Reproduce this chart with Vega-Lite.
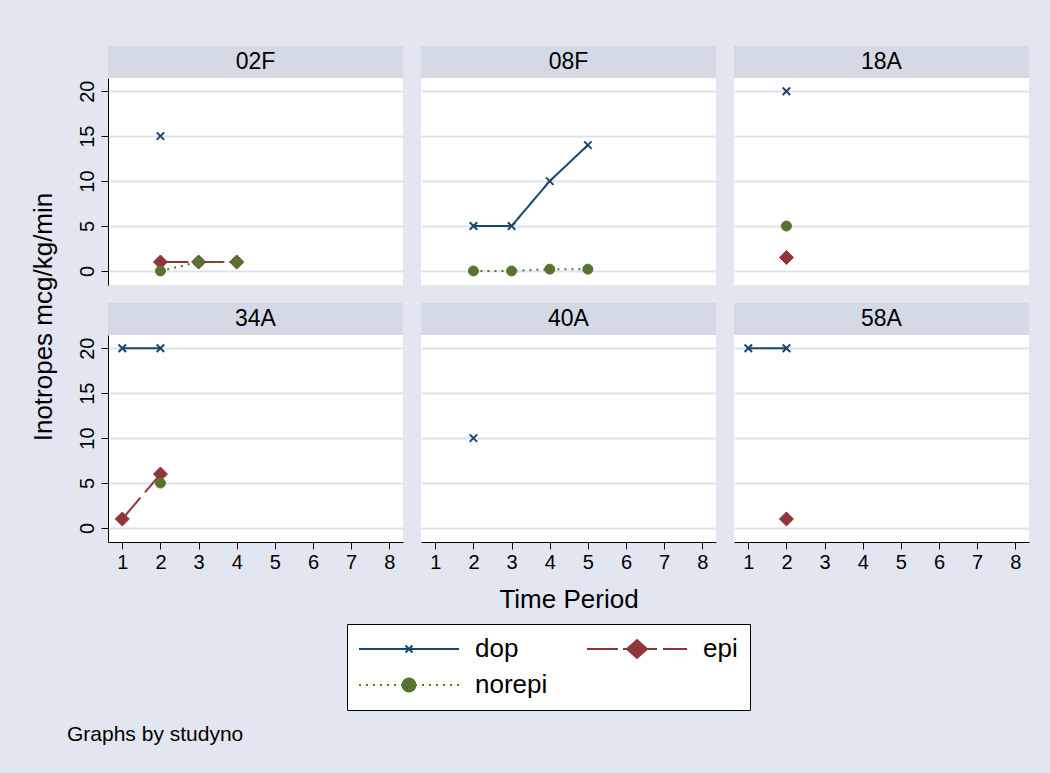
{
  "$schema": "https://vega.github.io/schema/vega-lite/v6.json",
  "background": "#E2E6F1",
  "padding": {"left": 30, "top": 46, "right": 30, "bottom": 40},
  "config": {
    "font": "Liberation Sans",
    "view": {"stroke": null},
    "axis": {"domainColor": "black", "domainWidth": 1, "tickColor": "black", "tickWidth": 1, "labelColor": "black", "labelFontSize": 20, "labelFont": "Liberation Sans", "gridColor": "#DDE2EC", "gridWidth": 2, "titleFontSize": 26, "titleFontWeight": "normal", "titleColor": "black", "titleFont": "Liberation Sans"},
    "title": {"fontWeight": "normal", "color": "black", "font": "Liberation Sans"}
  },
  "datasets": {
    "main": [
      {"studyno": "02F", "period": 2, "series": "dop", "value": 15},
      {"studyno": "02F", "period": 2, "series": "epi", "value": 1},
      {"studyno": "02F", "period": 3, "series": "epi", "value": 1},
      {"studyno": "02F", "period": 4, "series": "epi", "value": 1},
      {"studyno": "02F", "period": 2, "series": "norepi", "value": 0},
      {"studyno": "02F", "period": 3, "series": "norepi", "value": 1},
      {"studyno": "02F", "period": 4, "series": "norepi", "value": 1},
      {"studyno": "08F", "period": 2, "series": "dop", "value": 5},
      {"studyno": "08F", "period": 3, "series": "dop", "value": 5},
      {"studyno": "08F", "period": 4, "series": "dop", "value": 10},
      {"studyno": "08F", "period": 5, "series": "dop", "value": 14},
      {"studyno": "08F", "period": 2, "series": "norepi", "value": 0},
      {"studyno": "08F", "period": 3, "series": "norepi", "value": 0},
      {"studyno": "08F", "period": 4, "series": "norepi", "value": 0.2},
      {"studyno": "08F", "period": 5, "series": "norepi", "value": 0.2},
      {"studyno": "18A", "period": 2, "series": "dop", "value": 20},
      {"studyno": "18A", "period": 2, "series": "epi", "value": 1.5},
      {"studyno": "18A", "period": 2, "series": "norepi", "value": 5},
      {"studyno": "34A", "period": 1, "series": "dop", "value": 20},
      {"studyno": "34A", "period": 2, "series": "dop", "value": 20},
      {"studyno": "34A", "period": 1, "series": "epi", "value": 1},
      {"studyno": "34A", "period": 2, "series": "epi", "value": 6},
      {"studyno": "34A", "period": 2, "series": "norepi", "value": 5},
      {"studyno": "40A", "period": 2, "series": "dop", "value": 10},
      {"studyno": "58A", "period": 1, "series": "dop", "value": 20},
      {"studyno": "58A", "period": 2, "series": "dop", "value": 20},
      {"studyno": "58A", "period": 2, "series": "epi", "value": 1}
    ]
  },
  "title": {"text": "Graphs by studyno", "orient": "bottom", "anchor": "start", "fontSize": 21, "offset": 13, "dx": 36},
  "spacing": 0,
  "vconcat": [
    {
      "title": {"text": "Inotropes mcg/kg/min", "orient": "left", "fontSize": 26, "offset": 20, "anchor": "middle", "dx": 12},
      "spacing": 18,
      "vconcat": [
        {
          "spacing": 18,
          "hconcat": [
            {
              "spacing": 0,
              "vconcat": [
                {"width": 295, "height": 32, "view": {"fill": "#D3D9E5", "stroke": null}, "data": {"name": "main"},
                 "transform": [{"filter": "datum.studyno === '02F'"}, {"aggregate": [{"op": "count", "as": "n"}], "groupby": ["studyno"]}],
                 "mark": {"type": "text", "fontSize": 23, "color": "black", "baseline": "middle", "align": "center"},
                 "encoding": {"text": {"field": "studyno"}}},
                {"width": 295, "height": 207, "view": {"fill": "white", "stroke": null}, "data": {"name": "main"},
                 "transform": [{"filter": "datum.studyno === '02F'"}],
                 "encoding": {
                   "x": {"field": "period", "type": "quantitative", "scale": {"domain": [0.625, 8.36], "nice": false, "zero": false}, "axis": null},
                   "y": {"field": "value", "type": "quantitative", "scale": {"domain": [-1.56, 21.47], "nice": false, "zero": false}, "axis": {"values": [0, 5, 10, 15, 20], "title": null, "labelAngle": -90, "labelAlign": "center", "labelBaseline": "bottom", "tickSize": 7, "labelPadding": 4, "grid": true}},
                   "color": {"field": "series", "type": "nominal", "scale": {"domain": ["dop", "epi", "norepi"], "range": ["#1A476F", "#90353B", "#55752F"]},
                     "legend": {"title": null, "orient": "none", "legendX": 239, "legendY": 578, "columns": 2, "direction": "horizontal", "symbolSize": 100, "symbolStrokeWidth": 2, "labelFontSize": 26, "labelColor": "black", "labelFont": "Liberation Sans", "labelOffset": 90, "labelLimit": 300, "columnPadding": 35, "rowPadding": 10, "padding": 12, "strokeColor": "black", "fillColor": "white",
                       "encode": {"symbols": {"update": {"shape": {"signal": "datum.value === 'dop' ? 'M-2.6,0H17.4M6.7,-0.7L8.1,0.7M6.7,0.7L8.1,-0.7' : datum.value === 'epi' ? 'M-2.6,0H3.6M4.6,0H11.4M12.6,0H17.4M7.4,-1.8L9.4,0L7.4,1.8L5.4,0Z' : 'M-2.6,0h0.4M-1.2,0h0.4M0.2,0h0.4M1.6,0h0.4M3,0h0.4M4.4,0h0.4M5.8,0h0.4M8.6,0h0.4M10,0h0.4M11.4,0h0.4M12.8,0h0.4M14.2,0h0.4M15.6,0h0.4M17,0h0.4M8.7,0A1.3,1.3,0,1,1,6.1,0A1.3,1.3,0,1,1,8.7,0Z'"}, "fill": {"signal": "datum.value === 'dop' ? '#1A476F' : datum.value === 'epi' ? '#90353B' : '#55752F'"}, "stroke": {"signal": "datum.value === 'dop' ? '#1A476F' : datum.value === 'epi' ? '#90353B' : '#55752F'"}, "strokeWidth": {"value": 2}, "size": {"value": 100}, "opacity": {"value": 1}}}}}}
                 },
                 "layer": [
                   {"mark": {"type": "line", "strokeWidth": 2}, "encoding": {
                     "strokeDash": {"field": "series", "type": "nominal", "scale": {"range": [[1, 0], [28, 7], [2, 5]]}, "legend": null}}},
                   {"mark": {"type": "point", "filled": true, "opacity": 1}, "encoding": {
                     "shape": {"field": "series", "type": "nominal", "scale": {"range": ["M-1,-1L1,1M-1,1L1,-1", "diamond", "circle"]}, "legend": null},
                     "size": {"field": "series", "type": "nominal", "scale": {"type": "ordinal", "range": [56, 196, 100]}, "legend": null},
                     "stroke": {"field": "series", "type": "nominal", "scale": {"range": ["#1A476F", "#90353B", "#55752F"]}, "legend": null},
                     "strokeWidth": {"field": "series", "type": "nominal", "scale": {"type": "ordinal", "range": [2, 1, 1]}, "legend": null}}}
                 ]}
              ]
            },
            {
              "spacing": 0,
              "vconcat": [
                {"width": 295, "height": 32, "view": {"fill": "#D3D9E5", "stroke": null}, "data": {"name": "main"},
                 "transform": [{"filter": "datum.studyno === '08F'"}, {"aggregate": [{"op": "count", "as": "n"}], "groupby": ["studyno"]}],
                 "mark": {"type": "text", "fontSize": 23, "color": "black", "baseline": "middle", "align": "center"},
                 "encoding": {"text": {"field": "studyno"}}},
                {"width": 295, "height": 207, "view": {"fill": "white", "stroke": null}, "data": {"name": "main"},
                 "transform": [{"filter": "datum.studyno === '08F'"}],
                 "encoding": {
                   "x": {"field": "period", "type": "quantitative", "scale": {"domain": [0.625, 8.36], "nice": false, "zero": false}, "axis": null},
                   "y": {"field": "value", "type": "quantitative", "scale": {"domain": [-1.56, 21.47], "nice": false, "zero": false}, "axis": {"values": [0, 5, 10, 15, 20], "title": null, "labels": false, "ticks": false, "domain": false, "grid": true}},
                   "color": {"field": "series", "type": "nominal", "scale": {"domain": ["dop", "epi", "norepi"], "range": ["#1A476F", "#90353B", "#55752F"]},
                     "legend": {"title": null, "orient": "none", "legendX": 239, "legendY": 578, "columns": 2, "direction": "horizontal", "symbolSize": 100, "symbolStrokeWidth": 2, "labelFontSize": 26, "labelColor": "black", "labelFont": "Liberation Sans", "labelOffset": 90, "labelLimit": 300, "columnPadding": 35, "rowPadding": 10, "padding": 12, "strokeColor": "black", "fillColor": "white",
                       "encode": {"symbols": {"update": {"shape": {"signal": "datum.value === 'dop' ? 'M-2.6,0H17.4M6.7,-0.7L8.1,0.7M6.7,0.7L8.1,-0.7' : datum.value === 'epi' ? 'M-2.6,0H3.6M4.6,0H11.4M12.6,0H17.4M7.4,-1.8L9.4,0L7.4,1.8L5.4,0Z' : 'M-2.6,0h0.4M-1.2,0h0.4M0.2,0h0.4M1.6,0h0.4M3,0h0.4M4.4,0h0.4M5.8,0h0.4M8.6,0h0.4M10,0h0.4M11.4,0h0.4M12.8,0h0.4M14.2,0h0.4M15.6,0h0.4M17,0h0.4M8.7,0A1.3,1.3,0,1,1,6.1,0A1.3,1.3,0,1,1,8.7,0Z'"}, "fill": {"signal": "datum.value === 'dop' ? '#1A476F' : datum.value === 'epi' ? '#90353B' : '#55752F'"}, "stroke": {"signal": "datum.value === 'dop' ? '#1A476F' : datum.value === 'epi' ? '#90353B' : '#55752F'"}, "strokeWidth": {"value": 2}, "size": {"value": 100}, "opacity": {"value": 1}}}}}}
                 },
                 "layer": [
                   {"mark": {"type": "line", "strokeWidth": 2}, "encoding": {
                     "strokeDash": {"field": "series", "type": "nominal", "scale": {"range": [[1, 0], [28, 7], [2, 5]]}, "legend": null}}},
                   {"mark": {"type": "point", "filled": true, "opacity": 1}, "encoding": {
                     "shape": {"field": "series", "type": "nominal", "scale": {"range": ["M-1,-1L1,1M-1,1L1,-1", "diamond", "circle"]}, "legend": null},
                     "size": {"field": "series", "type": "nominal", "scale": {"type": "ordinal", "range": [56, 196, 100]}, "legend": null},
                     "stroke": {"field": "series", "type": "nominal", "scale": {"range": ["#1A476F", "#90353B", "#55752F"]}, "legend": null},
                     "strokeWidth": {"field": "series", "type": "nominal", "scale": {"type": "ordinal", "range": [2, 1, 1]}, "legend": null}}}
                 ]}
              ]
            },
            {
              "spacing": 0,
              "vconcat": [
                {"width": 295, "height": 32, "view": {"fill": "#D3D9E5", "stroke": null}, "data": {"name": "main"},
                 "transform": [{"filter": "datum.studyno === '18A'"}, {"aggregate": [{"op": "count", "as": "n"}], "groupby": ["studyno"]}],
                 "mark": {"type": "text", "fontSize": 23, "color": "black", "baseline": "middle", "align": "center"},
                 "encoding": {"text": {"field": "studyno"}}},
                {"width": 295, "height": 207, "view": {"fill": "white", "stroke": null}, "data": {"name": "main"},
                 "transform": [{"filter": "datum.studyno === '18A'"}],
                 "encoding": {
                   "x": {"field": "period", "type": "quantitative", "scale": {"domain": [0.625, 8.36], "nice": false, "zero": false}, "axis": null},
                   "y": {"field": "value", "type": "quantitative", "scale": {"domain": [-1.56, 21.47], "nice": false, "zero": false}, "axis": {"values": [0, 5, 10, 15, 20], "title": null, "labels": false, "ticks": false, "domain": false, "grid": true}},
                   "color": {"field": "series", "type": "nominal", "scale": {"domain": ["dop", "epi", "norepi"], "range": ["#1A476F", "#90353B", "#55752F"]},
                     "legend": {"title": null, "orient": "none", "legendX": 239, "legendY": 578, "columns": 2, "direction": "horizontal", "symbolSize": 100, "symbolStrokeWidth": 2, "labelFontSize": 26, "labelColor": "black", "labelFont": "Liberation Sans", "labelOffset": 90, "labelLimit": 300, "columnPadding": 35, "rowPadding": 10, "padding": 12, "strokeColor": "black", "fillColor": "white",
                       "encode": {"symbols": {"update": {"shape": {"signal": "datum.value === 'dop' ? 'M-2.6,0H17.4M6.7,-0.7L8.1,0.7M6.7,0.7L8.1,-0.7' : datum.value === 'epi' ? 'M-2.6,0H3.6M4.6,0H11.4M12.6,0H17.4M7.4,-1.8L9.4,0L7.4,1.8L5.4,0Z' : 'M-2.6,0h0.4M-1.2,0h0.4M0.2,0h0.4M1.6,0h0.4M3,0h0.4M4.4,0h0.4M5.8,0h0.4M8.6,0h0.4M10,0h0.4M11.4,0h0.4M12.8,0h0.4M14.2,0h0.4M15.6,0h0.4M17,0h0.4M8.7,0A1.3,1.3,0,1,1,6.1,0A1.3,1.3,0,1,1,8.7,0Z'"}, "fill": {"signal": "datum.value === 'dop' ? '#1A476F' : datum.value === 'epi' ? '#90353B' : '#55752F'"}, "stroke": {"signal": "datum.value === 'dop' ? '#1A476F' : datum.value === 'epi' ? '#90353B' : '#55752F'"}, "strokeWidth": {"value": 2}, "size": {"value": 100}, "opacity": {"value": 1}}}}}}
                 },
                 "layer": [
                   {"mark": {"type": "line", "strokeWidth": 2}, "encoding": {
                     "strokeDash": {"field": "series", "type": "nominal", "scale": {"range": [[1, 0], [28, 7], [2, 5]]}, "legend": null}}},
                   {"mark": {"type": "point", "filled": true, "opacity": 1}, "encoding": {
                     "shape": {"field": "series", "type": "nominal", "scale": {"range": ["M-1,-1L1,1M-1,1L1,-1", "diamond", "circle"]}, "legend": null},
                     "size": {"field": "series", "type": "nominal", "scale": {"type": "ordinal", "range": [56, 196, 100]}, "legend": null},
                     "stroke": {"field": "series", "type": "nominal", "scale": {"range": ["#1A476F", "#90353B", "#55752F"]}, "legend": null},
                     "strokeWidth": {"field": "series", "type": "nominal", "scale": {"type": "ordinal", "range": [2, 1, 1]}, "legend": null}}}
                 ]}
              ]
            }
          ]
        },
        {
          "spacing": 18,
          "hconcat": [
            {
              "spacing": 0,
              "vconcat": [
                {"width": 295, "height": 32, "view": {"fill": "#D3D9E5", "stroke": null}, "data": {"name": "main"},
                 "transform": [{"filter": "datum.studyno === '34A'"}, {"aggregate": [{"op": "count", "as": "n"}], "groupby": ["studyno"]}],
                 "mark": {"type": "text", "fontSize": 23, "color": "black", "baseline": "middle", "align": "center"},
                 "encoding": {"text": {"field": "studyno"}}},
                {"width": 295, "height": 207, "view": {"fill": "white", "stroke": null}, "data": {"name": "main"},
                 "transform": [{"filter": "datum.studyno === '34A'"}],
                 "encoding": {
                   "x": {"field": "period", "type": "quantitative", "scale": {"domain": [0.625, 8.36], "nice": false, "zero": false}, "axis": {"values": [1, 2, 3, 4, 5, 6, 7, 8], "title": null, "grid": false, "tickSize": 7, "labelPadding": 3, "labelAngle": 0}},
                   "y": {"field": "value", "type": "quantitative", "scale": {"domain": [-1.56, 21.47], "nice": false, "zero": false}, "axis": {"values": [0, 5, 10, 15, 20], "title": null, "labelAngle": -90, "labelAlign": "center", "labelBaseline": "bottom", "tickSize": 7, "labelPadding": 4, "grid": true}},
                   "color": {"field": "series", "type": "nominal", "scale": {"domain": ["dop", "epi", "norepi"], "range": ["#1A476F", "#90353B", "#55752F"]},
                     "legend": {"title": null, "orient": "none", "legendX": 239, "legendY": 578, "columns": 2, "direction": "horizontal", "symbolSize": 100, "symbolStrokeWidth": 2, "labelFontSize": 26, "labelColor": "black", "labelFont": "Liberation Sans", "labelOffset": 90, "labelLimit": 300, "columnPadding": 35, "rowPadding": 10, "padding": 12, "strokeColor": "black", "fillColor": "white",
                       "encode": {"symbols": {"update": {"shape": {"signal": "datum.value === 'dop' ? 'M-2.6,0H17.4M6.7,-0.7L8.1,0.7M6.7,0.7L8.1,-0.7' : datum.value === 'epi' ? 'M-2.6,0H3.6M4.6,0H11.4M12.6,0H17.4M7.4,-1.8L9.4,0L7.4,1.8L5.4,0Z' : 'M-2.6,0h0.4M-1.2,0h0.4M0.2,0h0.4M1.6,0h0.4M3,0h0.4M4.4,0h0.4M5.8,0h0.4M8.6,0h0.4M10,0h0.4M11.4,0h0.4M12.8,0h0.4M14.2,0h0.4M15.6,0h0.4M17,0h0.4M8.7,0A1.3,1.3,0,1,1,6.1,0A1.3,1.3,0,1,1,8.7,0Z'"}, "fill": {"signal": "datum.value === 'dop' ? '#1A476F' : datum.value === 'epi' ? '#90353B' : '#55752F'"}, "stroke": {"signal": "datum.value === 'dop' ? '#1A476F' : datum.value === 'epi' ? '#90353B' : '#55752F'"}, "strokeWidth": {"value": 2}, "size": {"value": 100}, "opacity": {"value": 1}}}}}}
                 },
                 "layer": [
                   {"mark": {"type": "line", "strokeWidth": 2}, "encoding": {
                     "strokeDash": {"field": "series", "type": "nominal", "scale": {"range": [[1, 0], [28, 7], [2, 5]]}, "legend": null}}},
                   {"mark": {"type": "point", "filled": true, "opacity": 1}, "encoding": {
                     "shape": {"field": "series", "type": "nominal", "scale": {"range": ["M-1,-1L1,1M-1,1L1,-1", "diamond", "circle"]}, "legend": null},
                     "size": {"field": "series", "type": "nominal", "scale": {"type": "ordinal", "range": [56, 196, 100]}, "legend": null},
                     "stroke": {"field": "series", "type": "nominal", "scale": {"range": ["#1A476F", "#90353B", "#55752F"]}, "legend": null},
                     "strokeWidth": {"field": "series", "type": "nominal", "scale": {"type": "ordinal", "range": [2, 1, 1]}, "legend": null}}}
                 ]}
              ]
            },
            {
              "spacing": 0,
              "vconcat": [
                {"width": 295, "height": 32, "view": {"fill": "#D3D9E5", "stroke": null}, "data": {"name": "main"},
                 "transform": [{"filter": "datum.studyno === '40A'"}, {"aggregate": [{"op": "count", "as": "n"}], "groupby": ["studyno"]}],
                 "mark": {"type": "text", "fontSize": 23, "color": "black", "baseline": "middle", "align": "center"},
                 "encoding": {"text": {"field": "studyno"}}},
                {"width": 295, "height": 207, "view": {"fill": "white", "stroke": null}, "data": {"name": "main"},
                 "transform": [{"filter": "datum.studyno === '40A'"}],
                 "encoding": {
                   "x": {"field": "period", "type": "quantitative", "scale": {"domain": [0.625, 8.36], "nice": false, "zero": false}, "axis": {"values": [1, 2, 3, 4, 5, 6, 7, 8], "title": "Time Period", "titlePadding": 14, "grid": false, "tickSize": 7, "labelPadding": 3, "labelAngle": 0}},
                   "y": {"field": "value", "type": "quantitative", "scale": {"domain": [-1.56, 21.47], "nice": false, "zero": false}, "axis": {"values": [0, 5, 10, 15, 20], "title": null, "labels": false, "ticks": false, "domain": false, "grid": true}},
                   "color": {"field": "series", "type": "nominal", "scale": {"domain": ["dop", "epi", "norepi"], "range": ["#1A476F", "#90353B", "#55752F"]},
                     "legend": {"title": null, "orient": "none", "legendX": 239, "legendY": 578, "columns": 2, "direction": "horizontal", "symbolSize": 100, "symbolStrokeWidth": 2, "labelFontSize": 26, "labelColor": "black", "labelFont": "Liberation Sans", "labelOffset": 90, "labelLimit": 300, "columnPadding": 35, "rowPadding": 10, "padding": 12, "strokeColor": "black", "fillColor": "white",
                       "encode": {"symbols": {"update": {"shape": {"signal": "datum.value === 'dop' ? 'M-2.6,0H17.4M6.7,-0.7L8.1,0.7M6.7,0.7L8.1,-0.7' : datum.value === 'epi' ? 'M-2.6,0H3.6M4.6,0H11.4M12.6,0H17.4M7.4,-1.8L9.4,0L7.4,1.8L5.4,0Z' : 'M-2.6,0h0.4M-1.2,0h0.4M0.2,0h0.4M1.6,0h0.4M3,0h0.4M4.4,0h0.4M5.8,0h0.4M8.6,0h0.4M10,0h0.4M11.4,0h0.4M12.8,0h0.4M14.2,0h0.4M15.6,0h0.4M17,0h0.4M8.7,0A1.3,1.3,0,1,1,6.1,0A1.3,1.3,0,1,1,8.7,0Z'"}, "fill": {"signal": "datum.value === 'dop' ? '#1A476F' : datum.value === 'epi' ? '#90353B' : '#55752F'"}, "stroke": {"signal": "datum.value === 'dop' ? '#1A476F' : datum.value === 'epi' ? '#90353B' : '#55752F'"}, "strokeWidth": {"value": 2}, "size": {"value": 100}, "opacity": {"value": 1}}}}}}
                 },
                 "layer": [
                   {"mark": {"type": "line", "strokeWidth": 2}, "encoding": {
                     "strokeDash": {"field": "series", "type": "nominal", "scale": {"range": [[1, 0], [28, 7], [2, 5]]}, "legend": null}}},
                   {"mark": {"type": "point", "filled": true, "opacity": 1}, "encoding": {
                     "shape": {"field": "series", "type": "nominal", "scale": {"range": ["M-1,-1L1,1M-1,1L1,-1", "diamond", "circle"]}, "legend": null},
                     "size": {"field": "series", "type": "nominal", "scale": {"type": "ordinal", "range": [56, 196, 100]}, "legend": null},
                     "stroke": {"field": "series", "type": "nominal", "scale": {"range": ["#1A476F", "#90353B", "#55752F"]}, "legend": null},
                     "strokeWidth": {"field": "series", "type": "nominal", "scale": {"type": "ordinal", "range": [2, 1, 1]}, "legend": null}}}
                 ]}
              ]
            },
            {
              "spacing": 0,
              "vconcat": [
                {"width": 295, "height": 32, "view": {"fill": "#D3D9E5", "stroke": null}, "data": {"name": "main"},
                 "transform": [{"filter": "datum.studyno === '58A'"}, {"aggregate": [{"op": "count", "as": "n"}], "groupby": ["studyno"]}],
                 "mark": {"type": "text", "fontSize": 23, "color": "black", "baseline": "middle", "align": "center"},
                 "encoding": {"text": {"field": "studyno"}}},
                {"width": 295, "height": 207, "view": {"fill": "white", "stroke": null}, "data": {"name": "main"},
                 "transform": [{"filter": "datum.studyno === '58A'"}],
                 "encoding": {
                   "x": {"field": "period", "type": "quantitative", "scale": {"domain": [0.625, 8.36], "nice": false, "zero": false}, "axis": {"values": [1, 2, 3, 4, 5, 6, 7, 8], "title": null, "grid": false, "tickSize": 7, "labelPadding": 3, "labelAngle": 0}},
                   "y": {"field": "value", "type": "quantitative", "scale": {"domain": [-1.56, 21.47], "nice": false, "zero": false}, "axis": {"values": [0, 5, 10, 15, 20], "title": null, "labels": false, "ticks": false, "domain": false, "grid": true}},
                   "color": {"field": "series", "type": "nominal", "scale": {"domain": ["dop", "epi", "norepi"], "range": ["#1A476F", "#90353B", "#55752F"]},
                     "legend": {"title": null, "orient": "none", "legendX": 239, "legendY": 578, "columns": 2, "direction": "horizontal", "symbolSize": 100, "symbolStrokeWidth": 2, "labelFontSize": 26, "labelColor": "black", "labelFont": "Liberation Sans", "labelOffset": 90, "labelLimit": 300, "columnPadding": 35, "rowPadding": 10, "padding": 12, "strokeColor": "black", "fillColor": "white",
                       "encode": {"symbols": {"update": {"shape": {"signal": "datum.value === 'dop' ? 'M-2.6,0H17.4M6.7,-0.7L8.1,0.7M6.7,0.7L8.1,-0.7' : datum.value === 'epi' ? 'M-2.6,0H3.6M4.6,0H11.4M12.6,0H17.4M7.4,-1.8L9.4,0L7.4,1.8L5.4,0Z' : 'M-2.6,0h0.4M-1.2,0h0.4M0.2,0h0.4M1.6,0h0.4M3,0h0.4M4.4,0h0.4M5.8,0h0.4M8.6,0h0.4M10,0h0.4M11.4,0h0.4M12.8,0h0.4M14.2,0h0.4M15.6,0h0.4M17,0h0.4M8.7,0A1.3,1.3,0,1,1,6.1,0A1.3,1.3,0,1,1,8.7,0Z'"}, "fill": {"signal": "datum.value === 'dop' ? '#1A476F' : datum.value === 'epi' ? '#90353B' : '#55752F'"}, "stroke": {"signal": "datum.value === 'dop' ? '#1A476F' : datum.value === 'epi' ? '#90353B' : '#55752F'"}, "strokeWidth": {"value": 2}, "size": {"value": 100}, "opacity": {"value": 1}}}}}}
                 },
                 "layer": [
                   {"mark": {"type": "line", "strokeWidth": 2}, "encoding": {
                     "strokeDash": {"field": "series", "type": "nominal", "scale": {"range": [[1, 0], [28, 7], [2, 5]]}, "legend": null}}},
                   {"mark": {"type": "point", "filled": true, "opacity": 1}, "encoding": {
                     "shape": {"field": "series", "type": "nominal", "scale": {"range": ["M-1,-1L1,1M-1,1L1,-1", "diamond", "circle"]}, "legend": null},
                     "size": {"field": "series", "type": "nominal", "scale": {"type": "ordinal", "range": [56, 196, 100]}, "legend": null},
                     "stroke": {"field": "series", "type": "nominal", "scale": {"range": ["#1A476F", "#90353B", "#55752F"]}, "legend": null},
                     "strokeWidth": {"field": "series", "type": "nominal", "scale": {"type": "ordinal", "range": [2, 1, 1]}, "legend": null}}}
                 ]}
              ]
            }
          ]
        }
      ]
    }
  ]
}
